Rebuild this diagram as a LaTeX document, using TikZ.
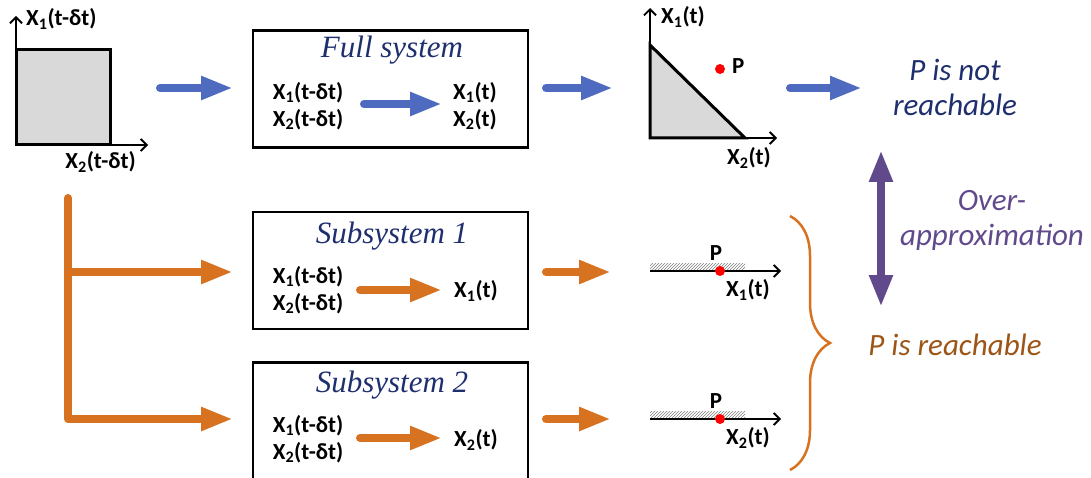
\documentclass[tikz,border=0pt]{standalone}
\usepackage{fontspec}
\setmainfont{Carlito}
\newfontfamily\titlefont{Liberation Serif}
\usetikzlibrary{arrows.meta,positioning,patterns,decorations.pathreplacing}
\definecolor{flowblue}{RGB}{79, 107, 191}
\definecolor{floworange}{RGB}{214, 114, 32}
\definecolor{approxpurple}{RGB}{96, 74, 140}
\definecolor{titlenavy}{RGB}{31, 47, 110}
\definecolor{reachbrown}{RGB}{156, 85, 23}
\definecolor{setgray}{RGB}{217, 217, 217}

\begin{document}
\begin{tikzpicture}[x=1pt, y=-1pt,
    every node/.style={align=center, inner sep=0pt, font=\bfseries\fontsize{23}{27}\selectfont},
    sysbox/.style={draw, line width=2.5pt, minimum width=275pt, minimum height=117pt},
    systitle/.style={font=\titlefont\itshape\fontsize{31}{34}\selectfont, text=titlenavy},
    note/.style={font=\itshape\fontsize{31}{35}\selectfont},
    bluearrow/.style={line width=8pt, draw=flowblue, line cap=round, -{Triangle[length=32pt,width=22pt]}},
    orangearrow/.style={line width=8pt, draw=floworange, line cap=round, line join=round, -{Triangle[length=32pt,width=22pt]}},
    axis/.style={line width=1.8pt, -{Straight Barb[length=6pt,width=12pt]}},
    setline/.style={line width=3pt, fill=setgray},
    dot/.style={circle, fill=red, minimum size=10pt}
]
\useasboundingbox (0,0) rectangle (1091,478);

% Initial set
\filldraw[setline] (16,50) rectangle (110,145);
\coordinate (o0) at (16,145);
\draw[axis] (o0) -- (16,16);
\draw[axis] (o0) -- (148,145);
\node[anchor=west] (x1prev) at (26,19) {X\textsubscript{1}(t-δt)};
\node[anchor=east] (x2prev) at (136,162) {X\textsubscript{2}(t-δt)};

% Full system
\node[sysbox] (full) at (390.5,89) {};
\node[systitle] (fulltitle) at (392,50) {Full system};
\node (fullin) at (308,106) {X\textsubscript{1}(t-δt)\\X\textsubscript{2}(t-δt)};
\node (fullout) at (475,106) {X\textsubscript{1}(t)\\X\textsubscript{2}(t)};
\coordinate (fa) at (364,104);
\coordinate (fb) at (442,104);
\draw[bluearrow] (fa) -- (fb);

% Subsystem 1
\node[sysbox] (sub1) at (390.5,270.5) {};
\node[systitle] (sub1title) at (392,236) {Subsystem 1};
\node (sub1in) at (308,290) {X\textsubscript{1}(t-δt)\\X\textsubscript{2}(t-δt)};
\node (sub1out) at (476,291) {X\textsubscript{1}(t)};
\coordinate (sa) at (360,290);
\coordinate (sb) at (442,290);
\draw[orangearrow] (sa) -- (sb);

% Subsystem 2
\node[sysbox] (sub2) at (390.5,421) {};
\node[systitle] (sub2title) at (392,385) {Subsystem 2};
\node (sub2in) at (308,439) {X\textsubscript{1}(t-δt)\\X\textsubscript{2}(t-δt)};
\node (sub2out) at (476,440) {X\textsubscript{2}(t)};
\coordinate (ta) at (360,438);
\coordinate (tb) at (442,438);
\draw[orangearrow] (ta) -- (tb);

% Reachable set of the full system
\filldraw[setline] (650,45) -- (745,138) -- (650,138) -- cycle;
\coordinate (o1) at (650,138);
\draw[axis] (o1) -- (650,8);
\draw[axis] (o1) -- (777,138);
\node[anchor=west] (x1full) at (661,17) {X\textsubscript{1}(t)};
\node[anchor=east] (x2full) at (771,158) {X\textsubscript{2}(t)};
\node[dot] (pfull) at (720,69) {};
\node[anchor=west] (pfulllab) at (732,66) {P};

% Projections
\fill[pattern=north east lines, pattern color=gray] (650,263) rectangle (745,271);
\coordinate (o2) at (650,271);
\draw[axis] (o2) -- (781,271);
\node[dot] (psub1) at (720,271) {};
\node (psub1lab) at (716,253) {P};
\node (x1sub) at (748,290) {X\textsubscript{1}(t)};

\fill[pattern=north east lines, pattern color=gray] (650,411) rectangle (745,419);
\coordinate (o3) at (650,419);
\draw[axis] (o3) -- (781,419);
\node[dot] (psub2) at (720,419) {};
\node (psub2lab) at (716,401) {P};
\node (x2sub) at (748,438) {X\textsubscript{2}(t)};

% Main flow
\coordinate (b1) at (160,88);  \coordinate (b2) at (233,88);
\coordinate (b3) at (546,88);  \coordinate (b4) at (613,88);
\coordinate (b5) at (790,88);  \coordinate (b6) at (862,88);
\draw[bluearrow] (b1) -- (b2);
\draw[bluearrow] (b3) -- (b4);
\draw[bluearrow] (b5) -- (b6);

\coordinate (split) at (68,198);
\coordinate (branch) at (68,272);
\coordinate (s1in) at (233,272);
\coordinate (s2in) at (233,419);
\draw[orangearrow] (split) |- (s2in);
\draw[orangearrow] (branch) -- (s1in);
\coordinate (s1a) at (546,272);  \coordinate (s1b) at (611,272);
\coordinate (s2a) at (546,419);  \coordinate (s2b) at (611,419);
\draw[orangearrow] (s1a) -- (s1b);
\draw[orangearrow] (s2a) -- (s2b);

% Conclusions
\node[note, text=titlenavy] (notreach) at (955,87) {P is not\\reachable};
\coordinate (ua) at (881,150);
\coordinate (ub) at (881,307);
\draw[line width=8pt, draw=approxpurple, {Triangle[length=32pt,width=22pt]}-{Triangle[length=32pt,width=22pt]}] (ua) -- (ub);
\node[note, text=approxpurple] (overapprox) at (992,220) {Over-\\approximation};
\coordinate (bra) at (790,216);
\coordinate (brb) at (790,470);
\draw[draw=floworange, line width=2.5pt, decorate, decoration={brace, amplitude=40pt}] (bra) -- (brb);
\node[note, text=reachbrown] (reach) at (955,345) {P is reachable};

\end{tikzpicture}
\end{document}
